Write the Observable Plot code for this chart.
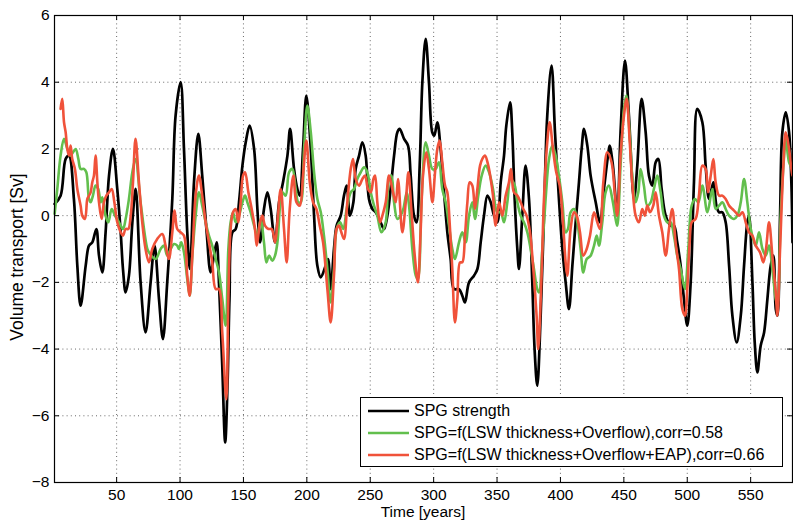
<!DOCTYPE html>
<html><head><meta charset="utf-8">
<script src="https://cdn.jsdelivr.net/npm/d3@7"></script>
<script src="https://cdn.jsdelivr.net/npm/@observablehq/plot@0.6"></script>
<style>
body{margin:0;background:#fff;}
#wrap{position:relative;width:793px;height:521px;overflow:hidden;font-family:"Liberation Sans",Arial,Helvetica,sans-serif;background:#fff;}
#wrap svg{position:absolute;left:0;top:0;}
.lbl{position:absolute;line-height:1;white-space:nowrap;color:#000;}
#legend{position:absolute;left:360px;top:397px;width:423px;height:70px;border:1px solid #000;background:#fff;box-sizing:border-box;}
.lrow{position:absolute;left:0;height:20px;display:flex;align-items:center;font-size:16px;}
.lrow svg{position:static !important;margin-left:7px;margin-right:5px;}
</style></head>
<body><div id="wrap"></div>
<script>
// ---- data (years, values) ----
const xTicks = [50,100,150,200,250,300,350,400,450,500,550];
const yTicks = [-8,-6,-4,-2,0,2,4,6];
const seriesNames = ["SPG strength","SPG=f(LSW thickness+Overflow),corr=0.58","SPG=f(LSW thickness+Overflow+EAP),corr=0.66"];
const seriesColors = ["#000000","#62bf4d","#f0523a"];

const blackYears = [1.1,5.8,9.8,12.4,16.3,19.0,21.6,25.6,28.2,30.8,34.0,36.1,38.7,41.3,44.0,47.1,50.5,53.2,55.0,57.1,59.7,62.4,65.0,68.9,72.8,76.8,79.9,83.4,86.5,89.9,93.9,96.5,100.5,103.1,105.7,107.8,111.0,114.4,117.5,121.0,124.1,126.8,128.9,130.7,133.3,135.6,137.5,139.0,141.3,143.9,146.5,149.2,151.8,154.9,158.4,161.0,163.1,166.2,168.9,171.5,174.9,178.1,181.2,184.7,186.8,189.9,192.5,194.4,197.0,199.6,203.1,205.7,208.3,211.0,214.8,216.7,218.8,221.4,223.5,226.7,229.3,231.4,234.0,236.7,238.5,241.2,243.8,246.4,249.0,251.7,254.3,258.2,260.9,263.5,266.1,268.8,271.4,273.2,276.7,279.8,281.9,284.5,286.5,289.0,291.1,293.7,296.3,298.9,300.5,302.9,305.5,308.2,310.8,313.4,316.0,320.0,322.6,324.7,327.9,331.8,334.5,337.1,339.7,342.4,345.0,347.6,350.2,352.9,355.5,357.3,360.3,362.0,363.9,366.0,367.3,369.9,372.5,375.2,377.8,379.6,381.7,384.4,387.0,389.6,393.0,395.7,398.8,401.5,404.1,406.7,409.4,412.0,414.6,416.7,418.6,421.2,423.8,427.8,431.2,434.3,437.5,438.8,441.4,444.8,447.4,450.9,454.0,458.0,460.6,464.0,467.2,469.8,472.4,475.1,477.2,479.8,483.0,486.9,489.5,492.1,494.8,497.4,500.0,502.7,505.3,507.9,511.9,514.5,517.2,520.6,523.0,525.1,527.7,530.3,533.0,535.6,539.0,542.2,544.8,547.4,548.7,551.4,553.2,555.3,557.9,560.6,563.2,565.8,567.9,569.8,571.1,573.2,575.0,577.7,580.3,582.1,583.0];
const blackValues = [0.35,0.6,1.7,1.8,0.5,-1.5,-2.7,-1.5,-0.9,-0.8,-0.4,-1.2,-1.7,-0.5,1.2,2.0,0.8,-0.5,-1.6,-2.3,-1.8,-0.2,0.8,-2.0,-3.5,-2.0,-0.9,-2.5,-3.7,-2.0,0.5,3.0,4.0,2.0,-0.5,-1.6,1.0,2.45,1.2,-0.5,-1.7,-1.2,-0.8,-2.0,-4.5,-6.8,-5.0,-2.5,-0.5,-0.4,0.4,1.5,2.2,2.7,2.0,0.2,-0.8,0.2,0.7,0.2,-0.8,0.4,1.0,1.8,2.6,1.4,0.8,0.6,2.0,3.6,2.0,0.0,-1.5,-1.85,-1.5,-1.3,-2.2,-1.0,-0.3,0.0,0.6,0.9,0.0,0.4,1.4,1.8,2.2,1.8,0.5,0.2,0.1,-0.2,-0.4,0.0,0.8,1.8,2.5,2.6,2.3,2.1,1.2,0.0,-0.2,1.5,4.0,5.3,4.0,2.5,2.4,2.8,2.0,0.7,-0.5,-1.3,-2.2,-2.2,-2.4,-2.6,-2.0,-1.8,-1.6,-0.8,0.0,0.6,0.4,0.0,-0.2,1.0,1.8,2.7,3.4,2.5,0.5,-1.0,-1.6,0.0,1.5,0.5,-2.0,-4.0,-5.1,-3.0,0.0,3.0,4.5,2.5,0.5,-1.0,-2.0,-2.8,-1.5,-0.2,1.0,2.0,2.6,2.1,1.2,0.4,-0.2,0.8,1.8,2.1,1.5,0.0,2.5,4.65,3.0,0.5,1.5,3.5,2.5,1.2,0.9,1.6,1.7,0.8,0.0,-0.3,-0.3,-0.8,-1.5,-2.5,-3.3,-2.0,1.0,3.2,2.8,1.5,0.5,1.0,0.3,0.1,0.1,-0.2,-1.5,-3.0,-3.8,-3.0,-1.5,-0.2,0.0,-2.0,-3.8,-4.7,-3.9,-3.5,-2.5,-1.5,-1.2,-2.8,-3.0,0.0,2.5,3.1,2.5,1.0,-0.8];

const greenYears = [1.1,3.2,5.8,8.5,11.1,13.7,15.6,17.7,19.8,21.6,24.2,26.1,28.2,29.5,31.3,33.4,35.5,37.4,38.7,41.3,43.4,46.1,48.7,51.9,55.0,57.1,59.7,62.4,64.9,68.9,74.2,75.5,80.7,84.7,87.3,89.9,92.6,95.2,97.8,99.1,101.0,103.1,105.7,107.6,109.7,112.3,114.9,117.5,120.2,122.8,125.4,128.1,130.7,133.3,136.0,138.1,139.9,141.8,143.9,146.5,149.2,151.3,153.1,155.7,158.4,161.0,163.6,166.2,168.1,170.2,172.8,174.9,176.8,178.9,180.7,183.3,186.0,188.6,191.2,193.3,195.2,197.8,200.4,203.1,205.7,208.3,211.0,213.5,216.2,218.8,221.4,223.5,226.2,228.8,231.4,234.6,237.2,239.8,242.5,245.1,247.7,250.4,253.0,255.6,258.8,262.2,264.8,266.7,268.8,271.4,274.0,276.1,278.8,280.6,283.2,285.9,287.5,290.5,293.7,296.3,299.0,301.6,304.2,306.8,309.5,312.1,314.7,316.8,320.0,322.6,325.3,327.9,330.5,332.6,335.2,337.9,341.0,343.7,346.8,350.2,352.9,355.5,358.1,360.7,364.0,366.0,368.6,371.2,373.9,376.5,379.1,381.7,383.1,385.7,388.3,391.0,393.6,396.2,398.8,401.5,404.1,405.9,408.0,410.7,413.3,415.9,418.0,420.7,423.8,426.5,428.6,430.4,433.0,435.6,438.2,440.9,443.5,444.8,447.4,450.1,451.9,454.5,456.6,459.3,461.4,463.2,465.8,468.5,471.1,473.7,476.4,479.0,481.6,484.3,486.9,489.5,492.1,494.8,498.2,500.8,503.5,506.1,508.7,511.9,515.9,519.8,522.4,525.1,527.7,530.3,533.0,536.9,539.5,542.2,544.8,547.4,550.1,554.0,556.6,559.3,561.9,564.5,567.1,569.8,571.1,573.7,576.4,577.7,580.3,583.0];
const greenValues = [0.05,0.8,1.8,2.3,2.0,1.8,1.9,2.0,1.7,1.4,1.4,1.3,0.5,0.4,0.6,0.9,0.8,0.4,0.55,0.0,-0.2,0.2,0.0,-0.2,-0.4,-0.1,0.5,1.3,1.7,0.4,-1.0,-1.1,-1.3,-1.0,-0.9,-1.2,-1.0,-0.85,-0.9,-1.0,-0.8,-1.1,-1.9,-2.4,-1.2,0.0,0.7,0.3,-0.2,-0.6,-0.9,-1.3,-1.7,-2.5,-3.3,-1.0,-0.2,0.1,-0.2,0.0,0.4,0.6,0.4,0.1,-0.3,-0.6,-0.1,-0.8,-1.4,-1.2,-1.35,-1.2,-0.8,0.3,0.7,0.6,1.3,1.4,0.8,0.4,0.4,2.0,3.3,2.5,1.3,0.5,0.1,-0.6,-1.6,-2.6,-1.6,-0.4,-0.2,-0.4,0.2,0.7,0.8,1.1,1.3,1.45,1.3,0.7,0.3,0.0,-0.5,-0.2,1.1,1.2,0.4,-0.1,0.0,0.2,0.7,0.3,-1.0,-1.8,-1.9,0.5,2.2,1.8,1.4,1.4,1.6,0.8,0.4,-0.3,-1.0,-1.3,-0.8,-0.5,-0.8,0.0,0.4,-0.1,0.6,1.2,1.5,1.3,0.8,0.1,0.1,-0.2,0.4,1.1,0.9,0.4,0.0,-0.2,-0.5,-1.0,-1.6,-2.2,-2.3,-1.0,0.5,1.7,2.1,1.8,1.2,0.4,-0.5,-0.4,0.1,0.2,-0.2,-1.0,-1.7,-1.3,-1.2,-0.9,-0.6,-0.9,-0.2,0.7,0.9,0.5,-0.1,-0.3,1.5,3.2,3.6,2.5,1.2,0.4,0.7,1.4,0.9,0.3,0.4,0.8,1.2,0.7,0.0,-0.2,-0.2,-0.6,-1.2,-1.6,-2.2,-1.0,0.3,0.5,0.4,0.9,0.1,0.8,0.2,0.3,0.4,0.2,0.0,-0.1,0.0,0.4,1.1,0.4,-0.4,-0.9,-0.5,-1.0,-1.2,-0.9,-1.6,-2.5,-2.7,0.0,1.8,2.3,1.6,1.4];

const redYears = [5.8,7.1,8.5,9.8,11.1,12.4,13.7,15.0,17.1,19.0,21.6,22.9,25.0,26.9,28.2,29.5,30.8,32.1,33.4,34.8,36.1,38.2,40.0,41.9,44.0,46.1,48.2,50.5,53.2,55.0,57.1,59.2,61.1,62.9,64.9,67.6,70.2,72.8,75.5,78.1,82.0,86.0,88.6,91.2,93.9,95.7,97.8,100.5,103.1,105.7,107.6,109.7,112.3,114.9,117.5,120.2,122.8,125.4,128.1,130.7,133.3,136.5,138.1,139.9,141.8,143.9,146.0,147.8,149.7,151.3,153.9,156.5,159.1,160.5,163.1,164.9,167.0,169.7,172.3,174.9,176.8,179.4,182.0,184.1,186.5,189.4,191.8,194.4,197.0,199.6,202.3,204.9,207.5,210.2,212.8,216.2,218.8,221.4,223.5,225.4,227.2,229.3,231.9,234.6,236.4,238.5,241.2,243.8,245.9,248.2,250.4,252.5,253.8,255.6,257.7,259.6,262.2,264.8,267.4,270.1,271.9,275.3,278.0,280.1,282.4,285.1,287.6,289.7,291.6,294.2,296.3,299.0,301.1,302.9,304.7,306.8,309.0,310.8,312.6,314.7,316.8,318.7,320.8,322.6,324.7,326.6,328.4,330.5,332.6,334.5,336.6,338.4,340.5,343.1,345.0,346.8,348.9,351.6,354.2,356.8,359.4,361.0,363.3,366.0,368.6,370.7,373.3,376.0,378.6,381.2,382.5,384.9,387.0,389.6,391.5,394.1,396.7,399.4,402.0,404.1,405.4,408.0,410.7,412.8,415.4,418.0,420.7,423.3,426.5,429.1,431.2,433.8,437.0,440.3,443.0,444.8,447.4,450.1,452.2,454.5,456.6,459.3,461.9,464.5,466.6,468.5,470.6,473.2,475.1,477.7,480.3,483.0,485.6,488.2,490.8,493.5,496.1,498.2,500.0,501.9,503.5,506.6,509.2,511.9,514.5,516.4,518.5,520.6,522.4,525.1,527.7,530.3,533.0,535.6,538.2,540.8,543.5,546.1,548.7,551.4,554.0,557.4,560.0,562.1,564.5,567.1,569.8,571.1,573.2,575.8,577.7,580.3,582.1,583.0];
const redValues = [3.2,3.5,2.8,2.5,2.0,1.8,2.1,1.7,1.4,0.8,0.3,0.0,-0.1,0.5,0.6,0.7,1.0,1.2,1.8,1.0,0.4,-0.1,0.4,0.6,0.7,0.8,0.4,-0.2,-0.5,-0.6,-0.4,-0.4,0.0,1.0,2.3,1.0,-0.2,-1.0,-1.4,-1.0,-0.7,-0.55,-0.9,-1.3,-0.5,0.15,-0.4,-0.5,-0.6,-1.8,-2.4,-1.2,0.6,1.2,0.6,-0.2,-0.8,-1.4,-2.2,-2.2,-3.5,-5.5,-2.5,-0.4,0.1,0.2,-0.2,0.4,1.2,1.3,0.7,0.2,-0.4,-0.9,-0.2,0.0,-0.3,-0.4,-0.4,-0.8,-0.2,0.8,-0.4,-1.4,0.2,1.2,0.4,0.3,1.2,2.25,1.0,0.4,0.2,-0.3,-0.8,-2.2,-3.2,-1.8,-0.4,-0.3,-0.5,-0.7,0.4,1.4,1.7,1.1,0.9,1.1,1.2,0.8,0.7,1.1,1.2,0.4,-0.2,0.0,0.4,1.2,0.8,0.4,1.1,-0.5,0.4,1.3,0.2,-1.2,-2.0,-0.5,1.2,1.9,1.4,0.4,1.3,2.0,2.25,1.6,0.9,0.7,-0.2,-1.6,-3.2,-2.5,-1.4,-1.4,-0.6,0.4,1.0,0.9,0.2,0.8,1.5,1.7,1.8,1.5,1.1,0.6,-0.3,0.4,0.0,0.6,1.0,1.4,0.7,0.6,0.4,0.2,0.0,-0.5,-1.6,-3.0,-4.0,-2.0,0.5,2.2,2.8,2.0,1.3,0.9,-0.2,-1.4,-1.8,-0.4,0.1,0.0,-0.5,-1.2,-1.0,-0.6,0.1,-0.2,-0.4,1.0,1.9,1.6,0.6,0.0,1.8,3.0,3.5,2.3,1.0,0.0,-0.2,0.2,0.0,0.3,0.1,0.3,0.7,0.0,-0.5,-1.2,-0.4,0.2,-0.8,-1.6,-2.8,-3.0,-2.2,-0.8,-0.2,-0.1,0.6,1.5,1.4,0.7,1.2,1.7,1.0,0.6,0.6,0.5,0.3,0.2,0.1,0.0,0.1,-0.2,-0.5,-0.6,-0.9,-1.1,-1.4,-1.0,-0.2,-1.2,-2.3,-3.0,-1.0,1.5,2.5,2.0,1.4,1.2];

// ---- build ----
const W = 793, H = 521, mL = 54, mR = 1, mT = 15, mB = 39;
const innerW = W - mL - mR, innerH = H - mT - mB;
const rows = (ys, vs) => ys.map((t, i) => ({t, v: vs[i]}));
const black = rows(blackYears, blackValues);
const green = rows(greenYears, greenValues);
const red = rows(redYears, redValues);
const inner = yTicks.filter(d => d > -8 && d < 6);

const chart = Plot.plot({
  width: W, height: H,
  marginLeft: mL, marginRight: mR, marginTop: mT, marginBottom: mB,
  style: {fontFamily: "'Liberation Sans', Arial, Helvetica, sans-serif", fontSize: "15.5px", background: "transparent", color: "#000"},
  x: {domain: [1, 583]},
  y: {domain: [-8, 6]},
  marks: [
    Plot.gridX(xTicks, {stroke: "#000", strokeOpacity: 0.75, strokeWidth: 0.8, strokeDasharray: "1,3.2"}),
    Plot.gridY(inner, {stroke: "#000", strokeOpacity: 0.75, strokeWidth: 0.8, strokeDasharray: "1,3.2"}),
    Plot.tickX(xTicks, {x: d => d, insetTop: innerH - 5, stroke: "#000"}),
    Plot.tickX(xTicks, {x: d => d, insetBottom: innerH - 5, stroke: "#000"}),
    Plot.tickY(inner, {y: d => d, insetRight: innerW - 5, stroke: "#000"}),
    Plot.tickY(inner, {y: d => d, insetLeft: innerW - 5, stroke: "#000"}),
    Plot.line(black, {x: "t", y: "v", stroke: seriesColors[0], strokeWidth: 2.7, curve: "catmull-rom"}),
    Plot.line(green, {x: "t", y: "v", stroke: seriesColors[1], strokeWidth: 2.6, curve: "catmull-rom"}),
    Plot.line(red, {x: "t", y: "v", stroke: seriesColors[2], strokeWidth: 2.6, curve: "catmull-rom"}),
    Plot.axisX(xTicks, {tickSize: 0, tickPadding: 6, label: null}),
    Plot.axisY(yTicks, {tickSize: 0, tickPadding: 5, label: null}),
    Plot.frame({stroke: "#000", strokeWidth: 1.2})
  ]
});
const wrap = document.getElementById("wrap");
wrap.appendChild(chart);

// axis labels
const xl = document.createElement("div");
xl.className = "lbl"; xl.textContent = "Time [years]";
xl.style.fontSize = "15.5px";
xl.style.left = "0px"; xl.style.width = W + "px"; xl.style.textAlign = "center";
xl.style.paddingLeft = (mL - mR) + "px"; xl.style.boxSizing = "border-box";
xl.style.top = "504px";
wrap.appendChild(xl);
const yl = document.createElement("div");
yl.className = "lbl"; yl.textContent = "Volume transport [Sv]";
yl.style.fontSize = "17.5px";
yl.style.left = "18px"; yl.style.top = "257px";
yl.style.transform = "translate(-50%,-50%) rotate(-90deg)";
wrap.appendChild(yl);

// legend
const lg = document.createElement("div");
lg.id = "legend";
const rowY = [3, 25, 47];
seriesNames.forEach((name, i) => {
  const r = document.createElement("div");
  r.className = "lrow"; r.style.top = rowY[i] + "px";
  r.innerHTML = `<svg width="41" height="6"><line x1="0" y1="3" x2="41" y2="3" stroke="${seriesColors[i]}" stroke-width="2.7"/></svg><span>${name}</span>`;
  lg.appendChild(r);
});
wrap.appendChild(lg);
</script></body></html>
